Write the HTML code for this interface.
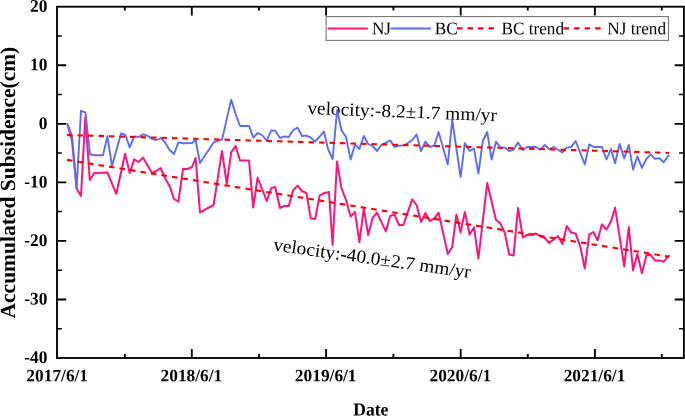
<!DOCTYPE html>
<html><head><meta charset="utf-8"><title>Accumulated Subsidence</title>
<style>html,body{margin:0;padding:0;background:#fff;overflow:hidden}svg{display:block}text{font-family:"Liberation Serif",serif;fill:#000}.b{font-weight:bold;font-size:17.35px}.l{font-size:17.2px}.a{font-size:18.5px}</style></head><body>
<svg width="685" height="416" viewBox="0 0 685 416">
<rect x="0" y="0" width="685" height="416" fill="#fff"/>
<text class="a" transform="translate(307.2 113.9) rotate(2.22) scale(1.047 1)">velocity:-8.2±1.7 mm/yr</text>
<text class="a" transform="translate(272.7 250.3) rotate(8.0) scale(1.046 1)">velocity:-40.0±2.7 mm/yr</text>
<polyline fill="none" stroke="#ff127d" stroke-width="2.0" stroke-linejoin="round" stroke-linecap="round" points="67.6,125 72,140.4 76.6,188.4 81,196 85.3,117 89.8,180 94.3,173 107.4,172.5 116.3,193.8 125.1,153.7 129.7,173 134.2,159.4 138.6,162 143,157.6 152,173 156.4,171 160.6,168 165,178 169.6,186 174,199 178.4,201.6 183,169 187.4,169 192,167 195.6,158 200,212.4 213.6,205 222,151 226.8,184 231.2,152.4 235.6,146 240,160.4 249,160.4 253.2,207.6 257.6,177.6 266.8,201 271.2,188 275.2,187 280,208 284.4,206 288.8,206 293.2,190 297.6,185.6 302,191 306.4,193 310.8,218.4 315.2,219 319.6,195.6 324.4,193 329,192 332.6,245 337,161.4 341.4,188 346,200 350.6,216.6 355,212 359.4,242 363.8,208.6 368.2,235 372.6,218 377,212.6 385.8,231.4 390.2,216 394.6,214.6 399,225 403.4,225 412.2,199.4 416.6,205 421,222 425.4,213 429.8,221 434.2,218.6 438.6,212.6 447.8,254 452.2,247 456.4,214.6 460.6,232.6 464.8,212 469.6,234.6 474,227.4 478.4,258.6 487.2,183 496,220 500.4,223.4 504.8,233 509.2,254.6 513.6,255.4 518,208 522.8,237.4 527.2,235 536,233.6 540.4,236 544.8,238 549.2,243 553.6,239.4 558,236 562.4,244 566.8,226 571.2,232.6 575.6,233.4 580.4,247 584.8,268.6 589.2,234.6 593.3,232 597.7,240.3 601.9,224.3 606.5,229.6 610.9,221.5 615.1,207.6 624.2,266.3 628.8,227 633,270.2 637.4,254 641.9,273.2 646.5,255.1 650.7,254.8 654.9,260.4 659.3,260.4 663.6,261.8 668.8,255.8"/>
<polyline fill="none" stroke="#5b6cfa" stroke-width="1.9" stroke-linejoin="round" stroke-linecap="round" points="67.6,124 72,136.2 76.6,188.4 81,110.8 85.4,112.3 90,154.3 94.2,155.2 98.6,155.2 103,155.2 107.4,136.3 112,166 121,133.5 125.3,134.8 129.7,147.4 134.2,136.4 138.6,137 143,134.4 147.4,135.6 152,139 156.4,140 161,138 165,142.4 169.6,150 174,154 178.4,142.4 183,143.2 192,143 195.6,140 200,163 213.6,142.4 222,139.6 231.2,99.6 235.6,114 240,126 249,126 253.4,137.6 257.6,133 262,135 266.8,140.6 271.2,130.4 275.2,130.8 280,138 284.4,136.4 288.8,137 293.2,130 297.6,127.6 302,136 306.4,135.6 310.8,137.6 315.2,141.6 324,131.6 328,149 332.6,159 337.1,110 341.4,130 346,137 350.6,159.6 355,144.4 359.4,149 363.8,136 368.2,144 372.6,146 377,151 381.4,145 390.2,140.4 394.6,147 399,145.6 403.4,145.6 407.8,143 412.2,140 416.6,134.4 421,151 425.4,141.6 429.8,147 434.2,145.6 438.6,132 447.8,164.4 452.2,120 460.6,177 464.8,143 469.6,151 474,148.4 478.4,173.6 482.8,141 487.2,132 491.6,159.6 496,141.6 500.4,147.6 504.8,147.6 509.2,151 513.6,149.6 518,142.4 522.8,150 527.2,147 536,147 540.4,149.6 544.8,145 549.2,149 553.6,147 562.4,152.4 566.8,147.6 571.2,147 575.6,141 584.8,164.4 589.2,144.4 593.6,147 601.9,147 606.5,159.5 610.9,149 615.1,163.3 619.6,143.9 624.2,158.5 628.8,144.9 633,169.6 637.4,156.3 641.9,167.9 646.5,158.8 650.7,154.4 654.9,158.8 659.3,158.1 663.6,162.3 668.8,155.3"/>
<line x1="67.0" y1="134.98" x2="669.2" y2="152.93" stroke="#ff0000" stroke-width="2.1" stroke-dasharray="5.5 5.004"/>
<line x1="67.0" y1="159.90" x2="669.2" y2="256.68" stroke="#ff0000" stroke-width="2.1" stroke-dasharray="5.57 5.055"/>
<rect x="57.0" y="6.7" width="626.9" height="351.3" fill="none" stroke="#000" stroke-width="1.85"/>
<path d="M57.0 299.45h9.2M683.9 299.45h-9.2M57.0 240.90h9.2M683.9 240.90h-9.2M57.0 182.35h9.2M683.9 182.35h-9.2M57.0 123.80h9.2M683.9 123.80h-9.2M57.0 65.25h9.2M683.9 65.25h-9.2M191.8 358.0v-8.9M191.8 6.7v8.9M326.1 358.0v-8.9M326.1 6.7v8.9M460.7 358.0v-8.9M460.7 6.7v8.9M594.9 358.0v-8.9M594.9 6.7v8.9" stroke="#000" stroke-width="1.85" fill="none"/>
<path d="M57.0 328.73h4.8M683.9 328.73h-4.8M57.0 270.18h4.8M683.9 270.18h-4.8M57.0 211.62h4.8M683.9 211.62h-4.8M57.0 153.07h4.8M683.9 153.07h-4.8M57.0 94.53h4.8M683.9 94.53h-4.8M57.0 35.98h4.8M683.9 35.98h-4.8" stroke="#000" stroke-width="1.5" fill="none"/>
<path d="M124.8 358.0v-3.9M124.8 6.7v3.9M259.0 358.0v-3.9M259.0 6.7v3.9M393.4 358.0v-3.9M393.4 6.7v3.9M527.8 358.0v-3.9M527.8 6.7v3.9M661.8 358.0v-3.9M661.8 6.7v3.9" stroke="#000" stroke-width="1.9" fill="none"/>
<text class="b" transform="translate(47.4 363.10) rotate(0.03) scale(1 1.02)" text-anchor="end">-40</text>
<text class="b" transform="translate(47.4 304.55) rotate(0.03) scale(1 1.02)" text-anchor="end">-30</text>
<text class="b" transform="translate(47.4 246.00) rotate(0.03) scale(1 1.02)" text-anchor="end">-20</text>
<text class="b" transform="translate(47.4 187.45) rotate(0.03) scale(1 1.02)" text-anchor="end">-10</text>
<text class="b" transform="translate(47.4 128.90) rotate(0.03) scale(1 1.02)" text-anchor="end">0</text>
<text class="b" transform="translate(47.4 70.35) rotate(0.03) scale(1 1.02)" text-anchor="end">10</text>
<text class="b" transform="translate(47.4 11.80) rotate(0.03) scale(1 1.02)" text-anchor="end">20</text>
<text class="b" transform="translate(57.20 381.2) rotate(0.03)" text-anchor="middle">2017/6/1</text>
<text class="b" transform="translate(191.40 381.2) rotate(0.03)" text-anchor="middle">2018/6/1</text>
<text class="b" transform="translate(325.70 381.2) rotate(0.03)" text-anchor="middle">2019/6/1</text>
<text class="b" transform="translate(460.30 381.2) rotate(0.03)" text-anchor="middle">2020/6/1</text>
<text class="b" transform="translate(594.50 381.2) rotate(0.03)" text-anchor="middle">2021/6/1</text>
<text transform="translate(370.8 415.6) rotate(0.03) scale(1 1.04)" text-anchor="middle" style="font-weight:bold;font-size:17.6px">Date</text>
<text transform="translate(14.95 182.6) rotate(-90.03)" text-anchor="middle" style="font-weight:bold;font-size:21.5px">Accumulated Subsidence(cm)</text>
<rect x="326.1" y="16.6" width="342.4" height="23.8" fill="#fff" stroke="#777" stroke-width="1.1"/>
<line x1="327.6" y1="28.5" x2="367.9" y2="28.5" stroke="#ff127d" stroke-width="2.0"/>
<text class="l" transform="translate(371.9 34.2) rotate(0.03) scale(1 1.03)">NJ</text>
<line x1="390.5" y1="28.5" x2="430.9" y2="28.5" stroke="#5b6cfa" stroke-width="1.9"/>
<text class="l" transform="translate(434.7 34.2) rotate(0.03) scale(1 1.03)">BC</text>
<line x1="456.9" y1="28.4" x2="497" y2="28.4" stroke="#ff0000" stroke-width="2.2" stroke-dasharray="5.5 5.06"/>
<text class="l" transform="translate(501.5 34.2) rotate(0.03) scale(1 1.03)">BC trend</text>
<line x1="563.5" y1="28.4" x2="603" y2="28.4" stroke="#ff0000" stroke-width="2.2" stroke-dasharray="5.5 5.06"/>
<text class="l" transform="translate(607.3 34.2) rotate(0.03) scale(1 1.03)">NJ trend</text>
</svg></body></html>
